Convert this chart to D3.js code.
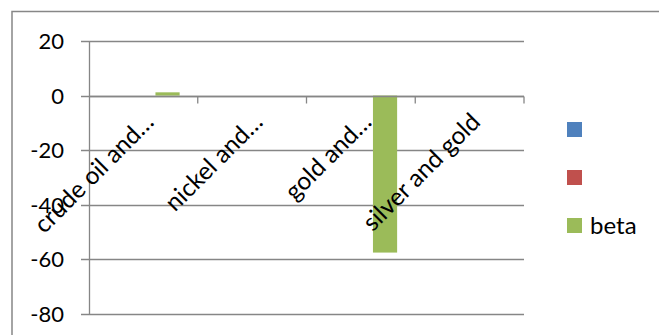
<!DOCTYPE html>
<html>
<head>
<meta charset="utf-8">
<script src="https://cdn.jsdelivr.net/npm/d3@7"></script>
<style>
  body { margin: 0; background: #fff; }
  text { font-family: Lato, "Open Sans", sans-serif; fill: #000; }
</style>
</head>
<body>
<svg id="chart" width="659" height="335"></svg>
<script>
// beta by commodity pair -- clustered columns, three series

var categories = ["crude oil and\u2026", "nickel and\u2026", "gold and\u2026", "silver and gold"];
var seriesNames = ["", "", "beta"];
var seriesColors = ["#4f81bd", "#c0504d", "#9bbb59"];
// only the beta series has values
var series1 = [null, null, null, null];
var series2 = [null, null, null, null];
var beta = [1.2, null, -57.5, null];
var yTicks = [20, 0, -20, -40, -60, -80];

var allSeries = [series1, series2, beta];

var svg = d3.select("#chart");

// outer chart border (runs off the right and bottom of the picture)
svg.append("rect")
  .attr("x", 12).attr("y", 11.5)
  .attr("width", 700).attr("height", 400)
  .attr("fill", "none")
  .attr("stroke", "#878787")
  .attr("stroke-width", 1.5);

var plotL = 89, plotR = 524, plotT = 41, plotB = 314;

var y = d3.scaleLinear().domain([-80, 20]).range([plotB, plotT]);
var x = d3.scaleBand().domain(categories).range([plotL, plotR]);
// Excel gap width 150%: three bars take 3 / 4.5 of a category
var bw = x.bandwidth();
var xs = d3.scaleBand().domain(d3.range(allSeries.length))
  .range([bw * 0.75 / 4.5, bw * 3.75 / 4.5]);

// gridlines
svg.append("g").selectAll("line")
  .data(yTicks)
  .join("line")
  .attr("x1", plotL - 8).attr("x2", plotR)
  .attr("y1", function (d) { return Math.round(y(d)) + 0.5; })
  .attr("y2", function (d) { return Math.round(y(d)) + 0.5; })
  .attr("stroke", "#868686")
  .attr("stroke-width", 1.3);

// value axis line
svg.append("line")
  .attr("x1", plotL + 0.5).attr("x2", plotL + 0.5)
  .attr("y1", plotT).attr("y2", plotB + 1)
  .attr("stroke", "#868686").attr("stroke-width", 1.3);

// tick labels
svg.append("g").selectAll("text")
  .data(yTicks)
  .join("text")
  .attr("x", 64)
  .attr("y", function (d) { return y(d); })
  .attr("dy", "0.36em")
  .attr("text-anchor", "end")
  .style("font-size", "22px")
  .text(function (d) { return d; });

// bars
allSeries.forEach(function (vals, si) {
  svg.append("g").selectAll("rect")
    .data(vals.map(function (v, i) { return { v: v, c: categories[i] }; })
      .filter(function (d) { return d.v != null; }))
    .join("rect")
    .attr("x", function (d) { return x(d.c) + xs(si); })
    .attr("width", xs.bandwidth())
    .attr("y", function (d) { return Math.min(y(d.v), y(0)); })
    .attr("height", function (d) { return Math.abs(y(d.v) - y(0)); })
    .attr("fill", seriesColors[si]);
});

// category axis at zero, with tick marks between categories
var y0 = Math.round(y(0)) + 0.5;
svg.append("line")
  .attr("x1", plotL).attr("x2", plotR)
  .attr("y1", y0).attr("y2", y0)
  .attr("stroke", "#868686").attr("stroke-width", 1.3);

svg.append("g").selectAll("line")
  .data(categories.map(function (c) { return x(c) + bw; }))
  .join("line")
  .attr("x1", function (d) { return d; }).attr("x2", function (d) { return d; })
  .attr("y1", y0).attr("y2", y0 + 7)
  .attr("stroke", "#868686").attr("stroke-width", 1.3);

// rotated category labels
svg.append("g").selectAll("text")
  .data(categories)
  .join("text")
  .attr("text-anchor", "end")
  .style("font-size", "24.5px")
  .attr("transform", function (d) {
    return "translate(" + (x(d) + bw / 2 + 12) + "," + (y0 + 27) + ") rotate(-45)";
  })
  .text(function (d) { return d; });

// legend
var legend = svg.append("g").selectAll("g")
  .data(seriesNames)
  .join("g")
  .attr("transform", function (d, i) { return "translate(567," + (122 + i * 48) + ")"; });

legend.append("rect")
  .attr("width", 15).attr("height", 15)
  .attr("fill", function (d, i) { return seriesColors[i]; });

legend.append("text")
  .attr("x", 23).attr("y", 7.5).attr("dy", "0.36em")
  .style("font-size", "24px")
  .text(function (d) { return d; });
</script>
</body>
</html>
